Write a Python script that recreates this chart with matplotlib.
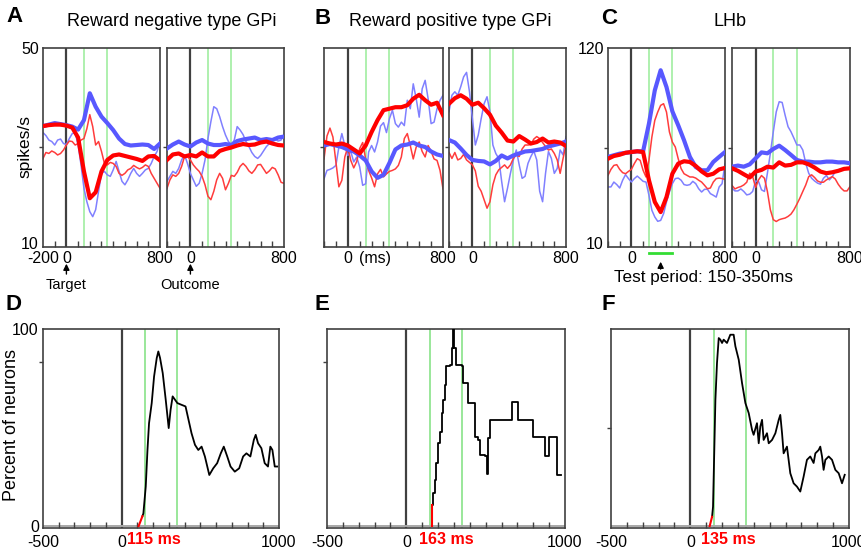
import numpy as np
import matplotlib.pyplot as plt
from matplotlib.ticker import MultipleLocator, FixedLocator
from matplotlib.transforms import ScaledTranslation

plt.rcParams['font.family'] = ['Liberation Sans', 'DejaVu Sans']

# time grids (ms)
t50 = np.arange(-200, 801, 50)
t25 = np.arange(-200, 801, 25)

# A: reward negative type GPi (spikes/s)
a_tgt_blue_thick = [34.3, 34.6, 34.9, 34.7, 34.5, 34.2, 33.6, 35.5, 40.9, 38.2, 36.2, 34.9, 33.5, 31.8, 30.7, 30.4, 30.5, 30.6, 30.5, 29.7, 30.8]
a_tgt_red_thick = [34.3, 34.5, 34.6, 34.6, 34.4, 34.0, 32.0, 25.2, 19.8, 21.0, 25.2, 27.5, 28.4, 28.6, 28.3, 28.0, 27.7, 27.3, 28.2, 28.3, 27.4]
a_tgt_blue_thin = [33.0, 32.4, 31.5, 31.2, 30.5, 31.5, 31.7, 30.8, 30.6, 31.8, 32.8, 33.0, 30.5, 26.5, 21.8, 19.1, 17.1, 16.1, 17.5, 21.2,
                   24.8, 25.2, 24.5, 24.2, 25.5, 27.2, 25.2, 23.2, 22.5, 23.5, 24.8, 25.8, 24.8, 24.2, 24.8, 25.5, 25.8, 26.8, 28.2, 29.2, 31.2]
a_tgt_red_thin = [27.8, 29.0, 28.8, 29.3, 29.0, 28.5, 28.8, 29.5, 30.5, 31.3, 31.2, 30.5, 30.8, 31.5, 31.8, 33.8, 36.6, 34.2, 30.5, 31.2,
                  29.2, 26.8, 26.5, 27.0, 26.8, 26.2, 24.8, 24.4, 24.8, 25.5, 25.8, 26.4, 26.0, 25.7, 26.0, 26.5, 26.2, 24.8, 23.8, 22.8, 21.8]
a_out_blue_thick = [29.8, 30.6, 31.2, 30.6, 30.2, 31.0, 31.5, 30.8, 30.5, 30.5, 30.7, 30.5, 31.3, 31.6, 31.8, 32.0, 31.5, 31.7, 31.5, 32.0, 32.2]
a_out_red_thick = [27.5, 28.6, 28.8, 28.2, 28.5, 28.2, 29.0, 28.2, 28.2, 29.3, 29.7, 30.0, 30.4, 30.7, 30.5, 30.6, 31.0, 31.2, 30.8, 30.5, 30.4]
a_out_blue_thin = [23.2, 24.2, 25.2, 24.8, 25.8, 27.5, 28.5, 26.8, 24.8, 23.5, 22.2, 22.8, 24.8, 27.5, 31.8, 35.2, 38.2, 37.8, 36.2, 34.2,
                   32.5, 31.2, 30.5, 31.5, 34.2, 33.5, 32.6, 31.2, 30.2, 29.0, 28.2, 27.8, 28.4, 29.3, 30.2, 30.8, 31.5, 31.7, 31.3, 31.5, 32.6]
a_out_red_thin = [21.8, 23.5, 24.5, 24.2, 24.8, 26.2, 28.2, 28.2, 27.5, 26.5, 25.8, 25.2, 24.2, 22.5, 20.2, 19.5, 21.2, 23.5, 24.8, 23.8,
                  21.5, 22.8, 24.4, 24.2, 25.0, 26.2, 26.8, 26.2, 25.3, 24.8, 25.5, 26.5, 26.6, 25.7, 24.8, 25.3, 26.0, 25.7, 24.5, 23.0, 22.8]

# B: reward positive type GPi
b_tgt_blue_thick = [30.4, 30.7, 30.4, 30.1, 29.6, 29.2, 28.4, 27.4, 25.2, 23.9, 24.5, 26.9, 29.6, 30.4, 30.6, 31.0, 30.4, 30.1, 29.2, 28.6, 28.3]
b_tgt_red_thick = [31.1, 30.8, 30.6, 30.8, 30.4, 29.6, 28.8, 30.4, 33.1, 35.5, 37.5, 37.8, 38.1, 38.1, 38.5, 39.8, 40.6, 39.5, 38.6, 39.0, 36.5]
b_tgt_blue_thin = [23.7, 25.4, 25.6, 25.9, 26.4, 30.1, 32.8, 30.4, 28.4, 29.2, 27.1, 28.1, 26.1, 22.4, 22.7, 29.1, 30.4, 29.1, 31.1, 34.3,
                   35.0, 33.0, 35.8, 37.5, 34.8, 34.1, 35.1, 34.4, 39.5, 37.8, 42.8, 39.8, 36.1, 41.8, 43.5, 39.8, 34.8, 35.1, 37.8, 39.5, 40.5]
b_tgt_red_thin = [27.7, 32.3, 33.9, 32.1, 27.1, 22.1, 23.4, 28.1, 30.1, 27.4, 25.9, 27.2, 29.8, 31.0, 27.7, 25.4, 23.9, 22.1, 24.7, 25.6,
                  24.1, 24.7, 25.2, 25.4, 25.7, 26.4, 28.1, 31.8, 32.8, 30.4, 27.7, 30.1, 31.1, 29.2, 28.1, 30.4, 29.2, 27.7, 27.4, 25.4, 21.7]
b_out_blue_thick = [31.5, 31.0, 29.8, 28.5, 27.5, 27.3, 27.2, 26.6, 27.3, 28.4, 27.8, 28.4, 28.8, 29.2, 29.3, 29.5, 29.7, 30.2, 30.5, 30.8, 31.2]
b_out_red_thick = [38.8, 39.9, 40.5, 39.8, 38.6, 39.0, 37.9, 36.6, 34.4, 33.0, 31.4, 31.2, 32.3, 31.6, 30.8, 31.1, 31.8, 31.0, 31.2, 31.0, 30.3]
b_out_blue_thin = [37.2, 40.5, 41.2, 40.5, 42.2, 44.2, 45.1, 41.2, 35.8, 30.5, 32.5, 35.8, 38.8, 40.2, 37.2, 30.5, 28.8, 27.8, 23.2, 19.1,
                   21.8, 24.8, 27.5, 29.5, 26.5, 23.8, 24.2, 26.8, 28.2, 29.3, 27.5, 21.2, 19.1, 24.8, 29.2, 27.8, 24.8, 25.8, 29.5, 28.5, 32.2]
b_out_red_thin = [29.0, 27.8, 29.0, 27.5, 27.8, 28.6, 27.5, 27.0, 26.5, 25.3, 22.2, 21.2, 19.5, 17.8, 19.1, 22.5, 24.5, 25.5, 26.0, 26.5,
                  25.8, 26.5, 27.8, 28.5, 28.2, 29.7, 30.5, 30.5, 30.6, 31.7, 32.2, 31.8, 31.0, 30.2, 29.5, 29.7, 28.8, 27.5, 24.8, 27.8, 30.6]

# C: LHb
c_tgt_blue_thick = [59.8, 60.7, 61.6, 62.0, 62.5, 62.9, 62.9, 78.2, 96.6, 107.7, 98.4, 85.0, 77.3, 69.0, 59.8, 54.2, 52.4, 52.4, 57.0, 59.8, 62.5]
c_tgt_red_thick = [58.8, 60.3, 61.0, 62.1, 62.5, 62.9, 62.5, 46.9, 34.9, 29.3, 37.6, 50.5, 56.1, 57.4, 57.0, 54.8, 51.8, 49.6, 50.5, 52.9, 53.7]
c_tgt_blue_thin = [43.2, 43.2, 45.9, 44.5, 42.6, 46.9, 50.0, 47.8, 45.9, 47.8, 49.2, 47.8, 46.3, 45.9, 38.6, 30.3, 26.6, 24.2, 24.7, 28.4,
                   34.9, 40.4, 45.0, 47.8, 48.1, 46.9, 44.5, 44.1, 44.5, 46.3, 45.0, 42.2, 40.4, 41.9, 41.9, 39.5, 38.6, 37.6, 43.2, 45.0, 56.1]
c_tgt_red_thin = [49.6, 52.9, 55.1, 55.5, 52.9, 51.1, 50.5, 51.8, 52.9, 56.1, 58.8, 57.9, 52.4, 48.7, 57.9, 70.8, 80.0, 84.6, 88.3, 89.2,
                  84.6, 73.6, 68.0, 65.3, 58.8, 53.3, 50.5, 49.6, 48.7, 48.7, 48.1, 46.9, 45.9, 44.1, 42.2, 42.6, 45.9, 47.8, 48.1, 47.8, 47.4]
c_out_blue_thick = [54.4, 55.0, 54.4, 55.7, 59.0, 62.3, 61.8, 64.2, 66.0, 63.6, 60.9, 58.1, 57.2, 57.2, 56.8, 56.8, 57.2, 57.2, 56.8, 56.8, 56.3]
c_out_red_thick = [53.5, 52.1, 50.2, 48.4, 51.7, 52.6, 54.4, 53.9, 56.8, 55.0, 55.4, 56.8, 56.8, 55.7, 53.9, 51.7, 50.8, 51.3, 52.1, 53.2, 53.5]
c_out_blue_thin = [42.5, 41.0, 41.0, 42.1, 40.7, 38.8, 39.2, 40.7, 46.5, 46.2, 41.6, 40.7, 50.8, 61.8, 73.7, 84.7, 90.3, 89.9, 82.9, 76.5,
                   73.7, 70.1, 66.4, 66.4, 63.6, 56.3, 50.8, 48.0, 46.5, 45.3, 44.7, 48.0, 49.5, 47.1, 48.9, 51.7, 52.6, 53.2, 53.5, 53.9, 53.2]
c_out_red_thin = [44.0, 42.1, 42.9, 43.4, 44.3, 45.8, 50.8, 49.0, 42.9, 47.1, 49.5, 48.0, 40.7, 30.6, 25.1, 24.1, 25.1, 25.6, 26.0, 26.9,
                  28.2, 30.6, 33.7, 37.0, 40.7, 44.3, 48.9, 49.9, 48.4, 46.5, 45.8, 45.8, 47.1, 48.0, 48.9, 47.6, 44.7, 42.5, 41.0, 41.0, 43.4]

# D-F: percent of neurons with significant modulation
d_t = [108, 132, 138, 153, 164, 174, 191, 206, 223, 233, 244, 261, 280, 299, 311, 324, 339, 354, 381, 406,
       425, 444, 466, 487, 508, 529, 557, 582, 607, 630, 649, 671, 692, 719, 747, 772, 793, 818, 840, 852,
       867, 888, 909, 930, 945, 958, 973, 988]
d_v = [0, 5, 6.4, 20, 38.6, 52.2, 62.4, 75.9, 85.3, 88.6, 85.3, 77.6, 64.1, 49.7, 59.0, 65.8, 64.1, 62.4, 61.5, 60.7,
       53.9, 47.1, 41.2, 38.6, 40.3, 35.3, 25.9, 29.3, 31.9, 36.9, 40.3, 35.3, 30.2, 27.6, 29.3, 35.3, 36.9, 35.3, 43.7, 46.3,
       42.0, 39.5, 31.9, 30.2, 40.3, 38.6, 30.2, 30.2]
e_t = [163, 163, 169, 180, 190, 201, 211, 222, 232, 243, 253, 274, 285, 291, 300, 316, 348, 358, 379, 390,
       422, 432, 453, 464, 495, 506, 516, 527, 653, 663, 695, 705, 790, 800, 863, 874, 895, 901, 948, 952, 973]
e_v = [0, 10.7, 16.6, 23.4, 31.9, 42.0, 47.9, 57.3, 64.1, 71.7, 81.0, 81.9, 90.3, 100, 90.3, 81.9, 81.0, 72.5, 72.5, 62.4,
       62.4, 45.4, 43.7, 36.1, 35.3, 26.6, 44.6, 53.9, 53.9, 63.2, 63.2, 53.9, 53.9, 45.4, 45.4, 35.3, 35.3, 45.4, 45.4, 25.8, 25.8]
f_t = [122, 137, 143, 151, 158, 168, 179, 189, 200, 210, 231, 252, 273, 284, 305, 326, 347, 368, 389, 399,
       420, 431, 441, 452, 462, 483, 494, 515, 536, 557, 567, 578, 588, 609, 630, 651, 672, 693, 714, 735,
       756, 777, 788, 809, 819, 830, 840, 851, 872, 893, 914, 935, 956, 973]
f_v = [0, 4.7, 9.8, 38.6, 64.1, 82.7, 95.4, 94.6, 92.9, 94.6, 92.9, 97.1, 97.1, 91.2, 84.4, 72.5, 62.4, 57.3, 48.8, 46.3,
       52.2, 42.0, 50.5, 53.9, 43.7, 47.1, 42.0, 43.7, 47.1, 53.9, 56.4, 47.1, 36.9, 40.3, 26.8, 21.7, 20.0, 17.5, 25.1, 33.6,
       35.3, 32.0, 36.9, 38.6, 40.3, 35.3, 28.5, 33.6, 35.3, 33.6, 28.5, 26.8, 21.7, 26.0]
onset_labels = ['115 ms', '163 ms', '135 ms']

W, H = 862, 552
FRAME = '#404040'
GREEN = '#98ec98'
BLUE_THICK = '#5858ff'
BLUE_THIN = '#8080ff'
RED_THIN = '#ff3c3c'
TICK_FS = 11.5

fig = plt.figure(figsize=(W / 100, H / 100), dpi=100)


def px(x0, y0, x1, y1):
    return [x0 / W, 1 - y1 / H, (x1 - x0) / W, (y1 - y0) / H]


def ftext(x, y, s, **kw):
    fig.text(x / W, 1 - y / H, s, **kw)


def style_axes(ax, xlim, ylim, xt, xl, yt, yl, ymid):
    ax.set_xlim(*xlim)
    ax.set_ylim(*ylim)
    for s in ax.spines.values():
        s.set_color(FRAME)
        s.set_linewidth(1.2)
    ax.set_xticks(xt)
    ax.set_xticklabels(xl)
    ax.xaxis.set_minor_locator(MultipleLocator(100))
    ax.set_yticks(yt)
    ax.set_yticklabels(yl)
    ax.yaxis.set_minor_locator(FixedLocator([ymid]))
    ax.tick_params(axis='both', which='major', length=0, labelsize=TICK_FS, pad=3)
    ax.tick_params(axis='x', which='minor', direction='in', length=4, width=1, color=FRAME)
    ax.tick_params(axis='y', which='minor', direction='out', length=3, width=1, color=FRAME)


def top_panel(rect, ylim, blue_thick, red_thick, blue_thin, red_thin, xt, xl, yt=(), yl=()):
    ax = fig.add_axes(px(*rect))
    for g in (150, 350):
        ax.axvline(g, color=GREEN, lw=1.1, zorder=1)
    ax.axvline(0, color=FRAME, lw=1.6, zorder=1)
    ax.plot(t25, blue_thin, color=BLUE_THIN, lw=1.1, zorder=2)
    ax.plot(t25, red_thin, color=RED_THIN, lw=1.1, zorder=2)
    ax.plot(t50, blue_thick, color=BLUE_THICK, lw=3, zorder=3)
    ax.plot(t50, red_thick, color='#ff0000', lw=3, zorder=4)
    style_axes(ax, (-200, 800), ylim, xt, xl, list(yt), list(yl), sum(ylim) / 2)
    # lowest y label sits a little above the bottom edge, as in the original
    if yl:
        lbl = ax.get_yticklabels()[0]
        lbl.set_transform(lbl.get_transform() + ScaledTranslation(0, 0.04, fig.dpi_scale_trans))
    return ax


def bottom_panel(rect, t, v, n_red, ymid, yt=(), yl=(), step=False):
    ax = fig.add_axes(px(*rect))
    for g in (150, 350):
        ax.axvline(g, color='#7fe07f', lw=1.1, zorder=1)
    ax.axvline(0, color=FRAME, lw=1.6, zorder=1)
    ax.axhline(0, color='#a8a8a8', lw=1.4, zorder=1)
    ds = 'steps-post' if step else 'default'
    ax.plot(t[n_red - 1:], v[n_red - 1:], color='black', lw=1.3, zorder=3, drawstyle=ds)
    ax.plot(t[:n_red], v[:n_red], color='#ff0000', lw=1.5, zorder=4)
    style_axes(ax, (-500, 1000), (-1, 100), [-500, 0, 1000], ['-500', '0', '1000'],
               list(yt), list(yl), ymid)
    ax.tick_params(axis='x', which='major', pad=5)
    return ax


def up_arrow(ax, x, y0, y1):
    ax.annotate('', xy=(x, y1), xycoords=('data', 'axes fraction'),
                xytext=(x, y0), textcoords=('data', 'axes fraction'),
                arrowprops=dict(arrowstyle='-|>', color='black', lw=1, mutation_scale=9))


# top row
ax_a1 = top_panel((43, 48, 160, 247), (10, 50), a_tgt_blue_thick, a_tgt_red_thick, a_tgt_blue_thin, a_tgt_red_thin,
                  [-200, 0, 800], ['-200', '0', '800'], [10, 50], ['10', '50'])
ax_a2 = top_panel((167, 48, 284, 247), (10, 50), a_out_blue_thick, a_out_red_thick, a_out_blue_thin, a_out_red_thin,
                  [0, 800], ['0', '800'])
ax_b1 = top_panel((324, 48, 443, 247), (10, 50), b_tgt_blue_thick, b_tgt_red_thick, b_tgt_blue_thin, b_tgt_red_thin,
                  [0, 800], ['0', '800'])
ax_b2 = top_panel((449, 48, 566, 247), (10, 50), b_out_blue_thick, b_out_red_thick, b_out_blue_thin, b_out_red_thin,
                  [0, 800], ['0', '800'])
ax_c1 = top_panel((608, 48, 725, 247), (10, 120), c_tgt_blue_thick, c_tgt_red_thick, c_tgt_blue_thin, c_tgt_red_thin,
                  [0, 800], ['0', '800'], [10, 120], ['10', '120'])
ax_c2 = top_panel((732, 48, 850, 247), (10, 120), c_out_blue_thick, c_out_red_thick, c_out_blue_thin, c_out_red_thin,
                  [0, 800], ['0', '800'])

# annotations under top row
for ax, lab in ((ax_a1, 'Target'), (ax_a2, 'Outcome')):
    up_arrow(ax, 0, -0.15, -0.07)
    ax.text(0, -0.19, lab, transform=ax.get_xaxis_transform(), ha='center', va='center', fontsize=10.5)

ax_b1.annotate('(ms)', xy=(0, 0), xycoords=('data', 'axes fraction'), xytext=(8, -3),
               textcoords='offset points', ha='left', va='top', fontsize=TICK_FS)

ax_c1.plot([150, 350], [-0.03, -0.03], color='#33dd33', lw=2, transform=ax_c1.get_xaxis_transform(), clip_on=False)
up_arrow(ax_c1, 250, -0.125, -0.06)
ax_c1.text(-150, -0.155, 'Test period: 150-350ms', transform=ax_c1.get_xaxis_transform(),
           ha='left', va='center', fontsize=12.3)

# bottom row
ax_d = bottom_panel((43, 329, 279, 528), d_t, d_v, 2, 83, [0, 100], ['0', '100'])
ax_e = bottom_panel((327, 329, 565, 528), e_t, e_v, 2, 83, step=True)
ax_f = bottom_panel((611, 329, 849, 528), f_t, f_v, 2, 50)

for x, lab in zip((127, 419, 701), onset_labels):
    ftext(x, 540, lab, color='#ff0000', fontweight='bold', fontsize=TICK_FS, va='center', ha='left')

# panel letters and titles
for x, y, s in ((15, 17, 'A'), (323, 18, 'B'), (609, 19, 'C'), (14, 304, 'D'), (322, 304, 'E'), (608, 304, 'F')):
    ftext(x, y, s, fontsize=16, fontweight='bold', ha='center', va='center')
ftext(172, 22, 'Reward negative type GPi', fontsize=13, ha='center', va='center')
ftext(450, 22, 'Reward positive type GPi', fontsize=13, ha='center', va='center')
ftext(730, 22, 'LHb', fontsize=13, ha='center', va='center')

ftext(25, 147, 'spikes/s', fontsize=12.5, rotation=90, ha='center', va='center')
ftext(12, 425, 'Percent of neurons', fontsize=13, rotation=90, ha='center', va='center')

fig.savefig('out.png', dpi=100)
